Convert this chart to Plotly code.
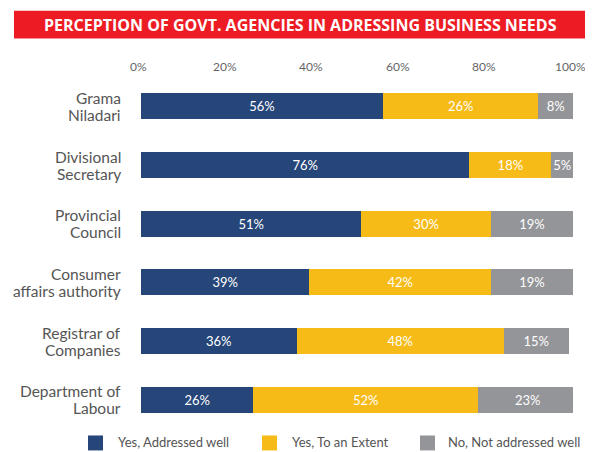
import plotly.graph_objects as go

categories = ["Grama Niladari", "Divisional Secretary", "Provincial Council",
              "Consumer affairs authority", "Registrar of Companies", "Department of Labour"]
category_lines = [["Grama", "Niladari"], ["Divisional", "Secretary"], ["Provincial", "Council"],
                  ["Consumer", "affairs authority"], ["Registrar of", "Companies"],
                  ["Department of", "Labour"]]
series_names = ["Yes, Addressed well", "Yes, To an Extent", "No, Not addressed well"]
addressed_well = [56, 76, 51, 39, 36, 26]
to_an_extent = [36, 19, 30, 42, 48, 52]
not_addressed = [8, 5, 19, 19, 15, 23]
# labels as printed on the chart
addressed_well_labels = ["56%", "76%", "51%", "39%", "36%", "26%"]
to_an_extent_labels = ["26%", "18%", "30%", "42%", "48%", "52%"]
not_addressed_labels = ["8%", "5%", "19%", "19%", "15%", "23%"]
tick_values = [0, 20, 40, 60, 80, 100]
tick_labels = ["0%", "20%", "40%", "60%", "80%", "100%"]
title_text = "PERCEPTION OF GOVT. AGENCIES IN ADRESSING BUSINESS NEEDS"

colors = ["#26467A", "#F6BB17", "#939598"]
FONT = "Lato"

W, H = 585, 452
X0, X1, Y0, Y1 = 141, 573, 76.5, 429.5
L, R, T, B = X0, W - X1, Y0, H - Y1
PW, PH = X1 - X0, Y1 - Y0

def px(x):
    return (x - X0) / PW

def py(y):
    return (Y1 - y) / PH

fig = go.Figure()
for name, vals, labs, col in zip(series_names,
                                 [addressed_well, to_an_extent, not_addressed],
                                 [addressed_well_labels, to_an_extent_labels, not_addressed_labels],
                                 colors):
    fig.add_trace(go.Bar(
        y=categories, x=vals, name=name, orientation="h",
        marker=dict(color=col, line=dict(width=0)),
        text=labs, textposition="inside", insidetextanchor="middle",
        textangle=0, constraintext="none",
        textfont=dict(color="white", size=13, family=FONT),
        showlegend=False, hoverinfo="skip",
    ))

shapes = [dict(type="rect", xref="paper", yref="paper",
               x0=px(14), x1=px(585), y0=py(38), y1=py(10),
               fillcolor="#ED1C24", line=dict(width=0), layer="above")]
annotations = [dict(xref="paper", yref="paper", x=px(300), y=py(24.5),
                    text=title_text, showarrow=False,
                    font=dict(color="white", size=16, family="Open Sans", weight="bold"),
                    xanchor="center", yanchor="middle")]

# top axis tick labels, placed on the x scale
for tv, tl in zip(tick_values, tick_labels):
    annotations.append(dict(xref="x", yref="paper", x=tv, y=py(66), text=tl,
                            showarrow=False, xanchor="center", yanchor="middle", xshift=-2.5,
                            font=dict(color="#666666", size=12, family=FONT)))

for cat, lines in zip(categories, category_lines):
    for i, line in enumerate(lines):
        annotations.append(dict(xref="paper", yref="y", x=px(123), y=cat,
                                yshift=8.5 - 17 * i, text=line, showarrow=False,
                                xanchor="right", yanchor="middle",
                                font=dict(color="#555555", size=15.5, family=FONT)))

legend_sq = [88, 262, 420]
legend_tx = [116, 290, 446]
for name, col, sx, tx in zip(series_names, colors, legend_sq, legend_tx):
    shapes.append(dict(type="rect", xref="paper", yref="paper",
                       x0=px(sx), x1=px(sx + 15), y0=py(451), y1=py(436),
                       fillcolor=col, line=dict(width=0)))
    annotations.append(dict(xref="paper", yref="paper", x=px(tx), y=py(442.5),
                            text=name, showarrow=False, xanchor="left", yanchor="middle",
                            font=dict(color="#555555", size=13, family=FONT)))

fig.update_layout(
    width=W, height=H,
    margin=dict(l=L, r=R, t=T, b=B, pad=0),
    barmode="stack", bargap=0.56,
    plot_bgcolor="white", paper_bgcolor="white",
    xaxis=dict(range=[0, 100], side="top", tickvals=tick_values,
               showgrid=False, zeroline=False, showline=False, ticks="",
               showticklabels=False),
    yaxis=dict(autorange="reversed", showgrid=False, zeroline=False, showline=False, ticks="",
               showticklabels=False),
    shapes=shapes, annotations=annotations,
    showlegend=False,
)

fig.write_html("out.html", config={"displayModeBar": False, "responsive": False},
               post_script="document.body.style.margin='0';document.body.style.overflow='hidden';")
